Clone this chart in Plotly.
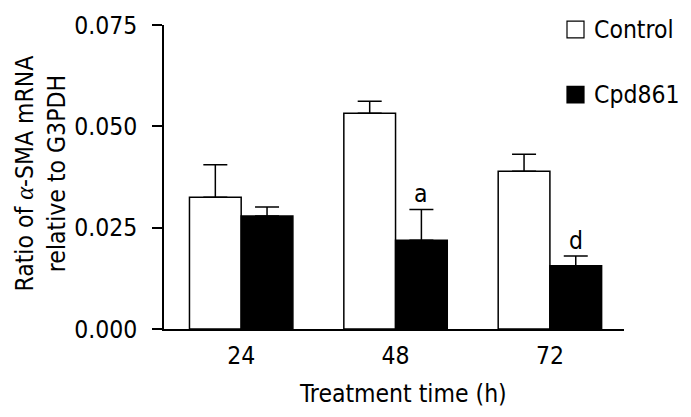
import plotly.graph_objects as go

# ---- data ----
categories = ["24", "48", "72"]
control = [0.0325, 0.0532, 0.0389]
control_err = [0.0080, 0.0030, 0.0042]
cpd861 = [0.0279, 0.0219, 0.0156]
cpd861_err = [0.0022, 0.0076, 0.0024]
sig_labels = ["", "a", "d"]
y_ticks = [0.000, 0.025, 0.050, 0.075]
y_ticktext = ["0.000", "0.025", "0.050", "0.075"]

# ---- layout geometry ----
W, H = 691, 417
ML, MR, MT, MB = 164, 67, 24.5, 87.7
PW, PH = W - ML - MR, H - MT - MB
BARGAP = 0.33
FONT = "DejaVu Sans Condensed, Liberation Sans, Arial, sans-serif"
FS = 24.5

def px_x(p):
    return (p - ML) / PW

def px_y(p):
    return (H - MB - p) / PH

x = list(range(len(categories)))

fig = go.Figure()
fig.add_trace(go.Bar(
    x=x, y=control, name="Control",
    marker=dict(color="white", line=dict(color="black", width=1.5)),
    error_y=dict(type="data", symmetric=False, array=control_err,
                 arrayminus=[0] * len(control), color="black",
                 thickness=1.5, width=12),
    showlegend=False,
))
fig.add_trace(go.Bar(
    x=x, y=cpd861, name="Cpd861",
    marker=dict(color="black", line=dict(color="black", width=1.5)),
    error_y=dict(type="data", symmetric=False, array=cpd861_err,
                 arrayminus=[0] * len(cpd861), color="black",
                 thickness=1.5, width=12),
    showlegend=False,
))

# significance letters above Cpd861 error bars
offset = (1 - BARGAP) / 4
for i, lab in enumerate(sig_labels):
    if lab:
        fig.add_annotation(x=i + offset, y=cpd861[i] + cpd861_err[i],
                           xref="x", yref="y", text=lab, showarrow=False,
                           yanchor="bottom", yshift=-1,
                           font=dict(family=FONT, size=FS, color="black"))

# y-axis title (two lines)
fig.add_annotation(
    x=px_x(41), y=px_y(173.5), xref="paper", yref="paper",
    text="Ratio of <span style=\"font-family:'Liberation Serif'\"><i>α</i></span>-SMA mRNA<br>relative to G3PDH",
    textangle=-90, showarrow=False, xanchor="center", yanchor="middle",
    font=dict(family=FONT, size=FS, color="black"))

# x-axis title
fig.add_annotation(
    x=px_x(403), y=px_y(393.5), xref="paper", yref="paper",
    text="Treatment time (h)", showarrow=False,
    xanchor="center", yanchor="middle",
    font=dict(family=FONT, size=FS, color="black"))

# legend (manual)
legend_items = [("Control", "white", 20.7), ("Cpd861", "black", 86.0)]
for name, col, top in legend_items:
    fig.add_shape(type="rect", xref="paper", yref="paper",
                  x0=px_x(567), x1=px_x(584), y0=px_y(top), y1=px_y(top + 16.7),
                  fillcolor=col, line=dict(color="black", width=1.2))
    fig.add_annotation(x=px_x(592), y=px_y(top + 8.3), xref="paper", yref="paper",
                       text=name, showarrow=False, xanchor="left", yanchor="middle",
                       font=dict(family=FONT, size=FS, color="black"))

fig.update_layout(
    width=W, height=H,
    margin=dict(l=ML, r=MR, t=MT, b=MB, pad=0, autoexpand=False),
    paper_bgcolor="white", plot_bgcolor="white",
    barmode="group", bargap=BARGAP, bargroupgap=0,
    font=dict(family=FONT, size=FS, color="black"),
    showlegend=False,
)
fig.update_xaxes(
    range=[-0.5, 2.48], tickmode="array", tickvals=x, ticktext=categories,
    showline=True, linecolor="black", linewidth=1.5, ticks="",
    showgrid=False, zeroline=False, ticklabelstandoff=4, automargin=False,
    tickfont=dict(family=FONT, size=FS, color="black"),
)
fig.update_yaxes(
    range=[0, 0.075], tickmode="array", tickvals=y_ticks, ticktext=y_ticktext,
    showline=True, linecolor="black", linewidth=1.5,
    ticks="outside", ticklen=10, tickwidth=1.5, tickcolor="black",
    showgrid=False, zeroline=False, ticklabelstandoff=10, automargin=False,
    tickfont=dict(family=FONT, size=FS, color="black"),
)

fig.write_html("out.html", config={"displayModeBar": False},
               post_script="document.body.style.margin='0';document.body.style.overflow='hidden';")
